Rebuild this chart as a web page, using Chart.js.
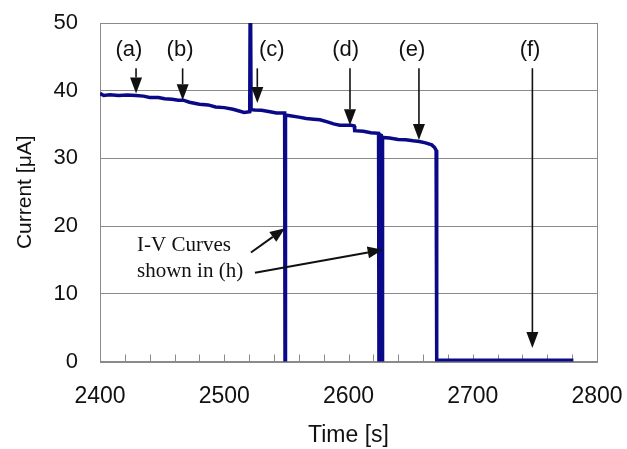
<!DOCTYPE html>
<html>
<head>
<meta charset="utf-8">
<script src="https://cdn.jsdelivr.net/npm/chart.js@4/dist/chart.umd.min.js"></script>
<style>
html,body{margin:0;padding:0;background:#fff;}
#wrap{width:627px;height:449px;}
</style>
</head>
<body>
<div id="wrap"><canvas id="c" width="627" height="449"></canvas></div>
<script>
// ---- data ----
const times = [2400,2403,2408,2415,2422,2429,2435,2440,2447,2452,2458,2463,2467,2472,2480,2487,2493,2500,2507,2512,2516,2520.5,2521,2521.6,2524.7,2530,2536.8,2542,2548.6,2548.9,2549.2,2549.4,2553,2560,2566,2572,2577,2583,2588,2593,2602,2604.6,2605,2612,2618,2624.2,2624.5,2625,2625.3,2626.4,2626.7,2627.1,2627.4,2633,2640,2646,2652,2657,2662,2667,2669.3,2670.5,2671,2781];
const currents = [39.6,39.3,39.4,39.3,39.35,39.3,39.2,39.0,39.0,38.8,38.75,38.6,38.6,38.3,38.0,37.9,37.6,37.5,37.25,37.0,36.8,36.9,60,37.2,37.15,37.1,36.9,36.7,36.7,0,0,36.4,36.3,36.1,35.9,35.8,35.7,35.4,35.1,34.9,34.9,34.8,34.1,34.0,33.8,33.7,0,0,33.5,33.4,0,0,33.1,33.0,32.8,32.75,32.6,32.5,32.3,32.0,31.6,31.2,0.2,0.2];

const xTickValues = [2400,2500,2600,2700,2800];
const yTickValues = [0,10,20,30,40,50];
const minorXTicks = [2420,2440,2460,2480,2500,2520,2540,2560,2580,2600,2620,2640,2660,2680,2700,2720,2740,2760,2780];

const markerLabels = ['(a)','(b)','(c)','(d)','(e)','(f)'];
const markerLabelX = [2423.3,2464.4,2538.2,2597.7,2651.1,2746.1];
const markerArrowX = [2429,2466.5,2526.6,2601.2,2656.7,2748];
const markerTipY = [39.6,38.6,38.2,34.9,32.7,2.0];
const markerTopY = 43.3;
const markerLabelY = 46.0;

const noteLines = ['I-V Curves','shown in (h)'];
const noteX = 2429.8;
const noteY = [17.2,13.3];
const noteArrowFrom = [[2521.5,16.1],[2524.7,13.1]];
const noteArrowTo = [[2548.9,19.7],[2627.5,16.5]];

// ---- chart ----
const pts = times.map((t,i)=>({x:t,y:currents[i]}));
const GRID = '#8a8a8a';

function arrow(ctx, x1,y1,x2,y2, headLen, headW){
  const ang = Math.atan2(y2-y1,x2-x1);
  const bx = x2 - headLen*Math.cos(ang), by = y2 - headLen*Math.sin(ang);
  ctx.beginPath();
  ctx.moveTo(x1,y1); ctx.lineTo(bx,by); ctx.stroke();
  ctx.beginPath();
  ctx.moveTo(x2,y2);
  ctx.lineTo(bx + headW/2*Math.sin(ang), by - headW/2*Math.cos(ang));
  ctx.lineTo(bx - headW/2*Math.sin(ang), by + headW/2*Math.cos(ang));
  ctx.closePath(); ctx.fill();
}

const framePlugin = {
  id:'frame',
  beforeDatasetsDraw(chart){
    const {ctx, chartArea:a, scales:{x}} = chart;
    ctx.save();
    ctx.strokeStyle = GRID; ctx.lineWidth = 1;
    ctx.strokeRect(Math.round(a.left)+0.5, Math.round(a.top)+0.5, Math.round(a.right-a.left), Math.round(a.bottom-a.top));
    ctx.beginPath();
    minorXTicks.forEach(v=>{
      const px = Math.round(x.getPixelForValue(v))+0.5;
      ctx.moveTo(px, a.bottom); ctx.lineTo(px, a.bottom-7);
    });
    ctx.stroke();
    ctx.restore();
  },
  afterDatasetsDraw(chart){
    const {ctx, scales:{x,y}} = chart;
    ctx.save();
    ctx.fillStyle = '#111'; ctx.strokeStyle = '#111';
    ctx.lineWidth = 1.6;
    ctx.font = '22px "Liberation Sans", Arial, sans-serif';
    ctx.textAlign = 'center'; ctx.textBaseline = 'middle';
    markerLabels.forEach((lab,i)=>{
      ctx.fillText(lab, x.getPixelForValue(markerLabelX[i]), y.getPixelForValue(markerLabelY));
      const ax = x.getPixelForValue(markerArrowX[i]);
      arrow(ctx, ax, y.getPixelForValue(markerTopY), ax, y.getPixelForValue(markerTipY[i]), 16, 12);
    });
    ctx.font = '21px "Liberation Serif", "Times New Roman", serif';
    ctx.textAlign = 'left';
    noteLines.forEach((l,i)=>{
      ctx.fillText(l, x.getPixelForValue(noteX), y.getPixelForValue(noteY[i]));
    });
    ctx.lineWidth = 2;
    noteArrowFrom.forEach((f,i)=>{
      const t = noteArrowTo[i];
      arrow(ctx, x.getPixelForValue(f[0]), y.getPixelForValue(f[1]), x.getPixelForValue(t[0]), y.getPixelForValue(t[1]), 15, 12);
    });
    ctx.restore();
  }
};

new Chart(document.getElementById('c'), {
  type:'line',
  data:{datasets:[{
    data: pts,
    borderColor:'#0a0a88',
    borderWidth:3.5,
    pointRadius:0,
    tension:0,
    fill:false
  }]},
  options:{
    responsive:false,
    animation:false,
    devicePixelRatio:1,
    layout:{padding:{top:23,right:30,left:0,bottom:0}},
    plugins:{legend:{display:false},tooltip:{enabled:false}},
    scales:{
      x:{
        type:'linear', min:2400, max:2800,
        afterBuildTicks(s){ s.ticks = xTickValues.map(v=>({value:v})); },
        afterFit(s){ s.height = 87.5; s.paddingLeft = 0; s.paddingRight = 0; },
        grid:{display:false, drawTicks:false},
        border:{display:false},
        ticks:{color:'#111', padding:21, maxRotation:0, callback:(v)=>String(v), font:{family:'"Liberation Sans", Arial, sans-serif', size:23}},
        title:{display:true, text:'Time [s]', color:'#111', padding:{top:0,bottom:0}, font:{family:'"Liberation Sans", Arial, sans-serif', size:23}}
      },
      y:{
        min:0, max:50,
        afterBuildTicks(s){ s.ticks = yTickValues.map(v=>({value:v})); },
        afterFit(s){ s.width = 100; s.paddingTop = 0; s.paddingBottom = 0; },
        grid:{color:GRID, lineWidth:1, drawTicks:false},
        border:{display:false},
        ticks:{color:'#111', padding:22, callback:(v)=>String(v), font:{family:'"Liberation Sans", Arial, sans-serif', size:22}},
        title:{display:true, text:'Current [μA]', color:'#111', padding:{top:13,bottom:0}, font:{family:'"Liberation Sans", Arial, sans-serif', size:21}}
      }
    }
  },
  plugins:[framePlugin]
});
</script>
</body>
</html>
